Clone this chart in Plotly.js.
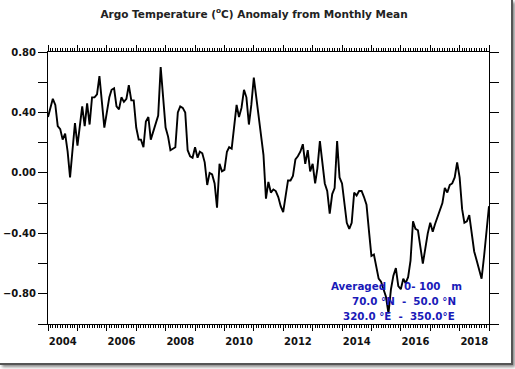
<!DOCTYPE html>
<html>
<head>
<meta charset="utf-8">
<script src="https://cdn.plot.ly/plotly-3.0.1.min.js"></script>
<style>
  html, body { margin: 0; padding: 0; background: #fff; }
  #wrap { position: relative; width: 515px; height: 369px; overflow: hidden; }
  #chart { position: absolute; left: 0; top: 0; width: 515px; height: 369px; }
  #frame { position: absolute; left: 0; top: 0; width: 511px; height: 363px;
           border-right: 2px solid #555; border-bottom: 2px solid #555;
           box-shadow: 2px 2px 3px #888; pointer-events: none; }
</style>
</head>
<body>
<div id="wrap"><div id="chart"></div><div id="frame"></div></div>
<script>
// Monthly anomaly series, starting January 2004
const startYear = 2004;
const startMonth = 1;
const anomaly = [
  0.37, 0.44, 0.49, 0.45, 0.31, 0.29, 0.22, 0.26, 0.14, -0.03, 0.15, 0.33,
  0.18, 0.33, 0.44, 0.31, 0.46, 0.32, 0.50, 0.50, 0.52, 0.64, 0.45, 0.30,
  0.40, 0.50, 0.55, 0.56, 0.44, 0.42, 0.50, 0.47, 0.49, 0.58, 0.48, 0.48,
  0.30, 0.22, 0.22, 0.17, 0.34, 0.37, 0.22, 0.27, 0.33, 0.38, 0.70, 0.52,
  0.30, 0.24, 0.15, 0.16, 0.17, 0.40, 0.44, 0.43, 0.40, 0.15, 0.11, 0.10,
  0.17, 0.10, 0.14, 0.13, 0.07, -0.08, 0.00, -0.01, -0.07, -0.23, 0.06, 0.01,
  0.02, 0.14, 0.17, 0.16, 0.30, 0.45, 0.37, 0.43, 0.55, 0.50, 0.32, 0.45,
  0.63, 0.50, 0.39, 0.25, 0.12, -0.17, -0.06, -0.13, -0.11, -0.12, -0.16, -0.22,
  -0.26, -0.15, -0.05, -0.05, -0.02, 0.09, 0.11, 0.14, 0.19, 0.06, 0.15, 0.01,
  0.06, -0.07, 0.03, 0.21, 0.05, -0.07, -0.12, -0.27, -0.14, -0.10, 0.21, -0.03,
  -0.07, -0.22, -0.33, -0.37, -0.33, -0.13, -0.15, -0.12, -0.12, -0.16, -0.21, -0.38,
  -0.55, -0.54, -0.62, -0.70, -0.72, -0.77, -0.82, -0.93, -0.77, -0.68, -0.63, -0.75,
  -0.77, -0.70, -0.73, -0.69, -0.58, -0.32, -0.37, -0.38, -0.48, -0.60, -0.50, -0.40,
  -0.33, -0.39, -0.34, -0.29, -0.25, -0.20, -0.10, -0.13, -0.08, -0.07, -0.03, 0.07,
  -0.03, -0.24, -0.33, -0.32, -0.28, -0.42, -0.52, -0.58, -0.65, -0.70, -0.55, -0.40,
  -0.22
];
const hiddenYears = ['2003', '2005', '2007', '2009', '2011', '2013', '2015', '2017', '2019'];
const titleText = 'Argo Temperature (<sup>o</sup>C) Anomaly from Monthly Mean';
const infoLines = [
  'Averaged\u00a0\u00a0\u00a0\u00a0 0-\u00a0100\u00a0\u00a0\u00a0m',
  '70.0 \u00b0N\u00a0\u00a0-\u00a0\u00a050.0 \u00b0N',
  '320.0 \u00b0E\u00a0\u00a0-\u00a0\u00a0350.0\u00b0E'
];

function pad(n) { return (n < 10 ? '0' : '') + n; }
const dates = anomaly.map((_, i) => {
  const d = new Date(Date.UTC(startYear, startMonth - 1 + i, 1));
  return d.getUTCFullYear() + '-' + pad(d.getUTCMonth() + 1) + '-01';
});
const alias = {};
hiddenYears.forEach(y => alias[y] = ' ');

const tickFont = { family: 'DejaVu Sans', size: 10, color: '#111', weight: 'bold' };
const infoFont = { family: 'DejaVu Sans', size: 10.3, color: '#1a1ab8', weight: 'bold' };

const trace = {
  x: dates, y: anomaly, type: 'scatter', mode: 'lines',
  line: { color: '#000', width: 1.9 }, hoverinfo: 'skip'
};

const layout = {
  width: 515, height: 369,
  margin: { l: 48, r: 26, t: 52, b: 45, pad: 0 },
  paper_bgcolor: 'rgba(0,0,0,0)', plot_bgcolor: '#fff',
  showlegend: false,
  title: {
    text: titleText, x: 254 / 515, xanchor: 'center', y: 1 - 14 / 369, yanchor: 'middle',
    yref: 'container', xref: 'container',
    font: { family: 'DejaVu Sans', size: 10.5, color: '#222', weight: 'bold' }
  },
  xaxis: {
    type: 'date', range: ['2004-01-01', '2019-01-01'],
    tick0: '2004-01-01', dtick: 'M12', tickformat: '%Y', ticklabelmode: 'period',
    labelalias: alias, ticklabelstandoff: 2,
    ticks: 'outside', ticklen: 6, tickwidth: 1, tickcolor: '#000',
    showline: true, linecolor: '#000', linewidth: 1, mirror: 'allticks',
    showgrid: false, zeroline: false,
    minor: { dtick: 'M1', tick0: '2004-01-01', ticks: 'outside', ticklen: 3, tickwidth: 1, tickcolor: '#000', showgrid: false },
    tickfont: tickFont
  },
  yaxis: {
    range: [-1.0, 0.8], tick0: 0, dtick: 0.4, tickformat: '.2f',
    ticks: 'outside', ticklen: 9, tickwidth: 1, tickcolor: '#000',
    showline: true, linecolor: '#000', linewidth: 1, mirror: 'allticks',
    showgrid: false, zeroline: false,
    minor: { dtick: 0.2, tick0: 0, ticks: 'outside', ticklen: 9, tickwidth: 1, tickcolor: '#000', showgrid: false },
    tickfont: tickFont
  },
  annotations: [
    { text: infoLines[0], xref: 'paper', yref: 'paper', x: 0.79, y: 0.141, xanchor: 'center', yanchor: 'middle', showarrow: false, font: infoFont },
    { text: infoLines[1], xref: 'paper', yref: 'paper', x: 0.807, y: 0.086, xanchor: 'center', yanchor: 'middle', showarrow: false, font: infoFont },
    { text: infoLines[2], xref: 'paper', yref: 'paper', x: 0.797, y: 0.030, xanchor: 'center', yanchor: 'middle', showarrow: false, font: infoFont }
  ]
};

Plotly.newPlot('chart', [trace], layout, { displayModeBar: false, staticPlot: true });
</script>
</body>
</html>
